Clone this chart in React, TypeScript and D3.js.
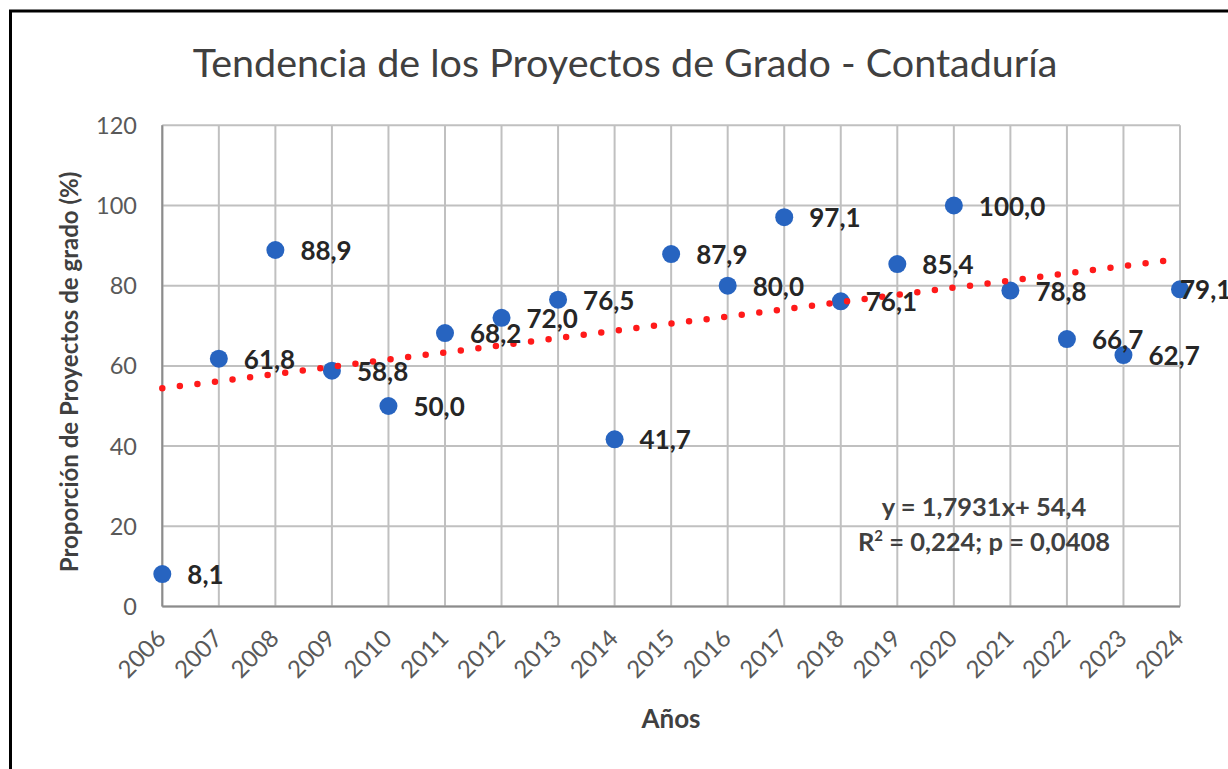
import React from "react";
import * as d3 from "d3";

const years = ["2006","2007","2008","2009","2010","2011","2012","2013","2014","2015","2016","2017","2018","2019","2020","2021","2022","2023","2024"];
const values = [8.1, 61.8, 88.9, 58.8, 50.0, 68.2, 72.0, 76.5, 41.7, 87.9, 80.0, 97.1, 76.1, 85.4, 100.0, 78.8, 66.7, 62.7, 79.1];
const yTicks = [0, 20, 40, 60, 80, 100, 120];
const trendSlope = 1.7931;
const trendIntercept = 54.4;
const title = "Tendencia de los Proyectos de Grado - Contaduría";
const xTitle = "Años";
const yTitle = "Proporción de Proyectos de grado (%)";
const eqLine1 = "y = 1,7931x+ 54,4";
const eqLine2a = "R";
const eqLine2b = " = 0,224; p = 0,0408";

const W = 1228, H = 769;
const FONT = "Lato, 'Open Sans', sans-serif";

export default function App() {
  const x = d3.scalePoint<string>().domain(years).range([162.3, 1180]);
  const y = d3.scaleLinear().domain([0, 120]).range([606.5, 125.3]);
  const fmt = (v: number) => v.toFixed(1).replace(".", ",");
  const trendData = years.map((yr, i) => ({ yr, v: trendIntercept + trendSlope * i }));
  const trendPath = d3.line<{ yr: string; v: number }>().x(d => x(d.yr)!).y(d => y(d.v))(trendData) || "";

  return (
    <svg width={W} height={H} style={{ position: "absolute", left: 0, top: 0, background: "#fff" }} fontFamily={FONT}>
      <rect x={0} y={0} width={W} height={H} fill="#fff" />
      <rect x={10.5} y={11} width={1400} height={900} fill="none" stroke="#000" strokeWidth={3} />
      <text x={625} y={77} textAnchor="middle" fontSize={39.5} fill="#404040">{title}</text>
      {/* gridlines */}
      {yTicks.map(t => (
        <line key={"h" + t} x1={x.range()[0]} x2={x.range()[1]} y1={y(t)} y2={y(t)} stroke="#c0c0c0" strokeWidth={2} />
      ))}
      {years.map(yr => (
        <line key={"v" + yr} x1={x(yr)} x2={x(yr)} y1={y(0)} y2={y(120)} stroke="#c0c0c0" strokeWidth={2} />
      ))}
      {/* axes */}
      <line x1={x.range()[0]} x2={x.range()[0]} y1={y(0)} y2={y(120)} stroke="#8c8c8c" strokeWidth={2} />
      <line x1={x.range()[0]} x2={x.range()[1]} y1={y(0)} y2={y(0)} stroke="#8c8c8c" strokeWidth={2} />
      {yTicks.map(t => (
        <text key={"yt" + t} x={137} y={y(t) + 8.5} textAnchor="end" fontSize={23.5} fill="#595959">{t}</text>
      ))}
      {years.map(yr => (
        <text key={"xt" + yr} transform={`translate(${x(yr)! + 5},640) rotate(-45)`} textAnchor="end" fontSize={24} fill="#595959">{yr}</text>
      ))}
      <text x={671} y={728} textAnchor="middle" fontSize={26} fontWeight="bold" fill="#404040">{xTitle}</text>
      <text transform={`translate(78,372) rotate(-90)`} textAnchor="middle" fontSize={24} fontWeight="bold" fill="#404040">{yTitle}</text>
      {/* markers */}
      {years.map((yr, i) => (
        <circle key={"c" + yr} cx={x(yr)} cy={y(values[i])} r={9} fill="#2764C0" />
      ))}
      {/* trend */}
      <path d={trendPath} fill="none" stroke="#ff1a1a" strokeWidth={6.5} strokeLinecap="round" strokeDasharray="0 17.7" />
      {/* labels */}
      {years.map((yr, i) => (
        <text key={"l" + yr} x={x(yr)! + (i === years.length - 1 ? 0 : 25)} y={y(values[i]) + 10} fontSize={26} fontWeight="bold" fill="#262626">{fmt(values[i])}</text>
      ))}
      <text x={984} y={516} textAnchor="middle" fontSize={25.5} fontWeight="bold" fill="#404040">{eqLine1}</text>
      <text x={984} y={551} textAnchor="middle" fontSize={25.5} fontWeight="bold" fill="#404040">
        {eqLine2a}<tspan fontSize={15} dy={-10}>2</tspan><tspan dy={10}>{eqLine2b}</tspan>
      </text>
    </svg>
  );
}
